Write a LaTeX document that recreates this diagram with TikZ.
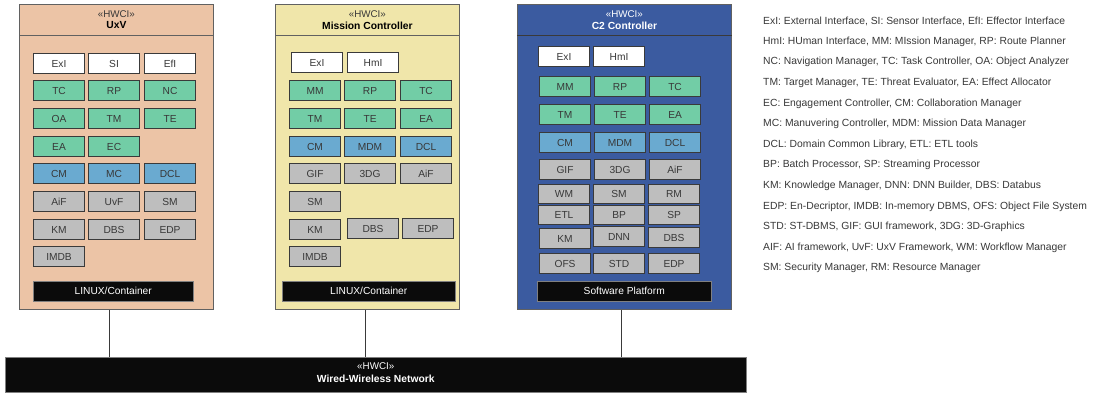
\documentclass[tikz,border=0pt]{standalone}
\usepackage{fontspec}
\setmainfont{Liberation Sans}
\definecolor{peach}{HTML}{ECC4A6}
\definecolor{straw}{HTML}{F0E6AA}
\definecolor{navy}{HTML}{3B5BA0}
\definecolor{mint}{HTML}{72CDA6}
\definecolor{sky}{HTML}{6AAAD0}
\definecolor{ash}{HTML}{BEBEBE}
\definecolor{edge}{HTML}{3A3A3A}
\definecolor{ink}{HTML}{383838}
\definecolor{night}{HTML}{0B0B0B}
\newcommand\modbox[5]{\node[mod,fill=#2] (#1) at (#3,#4) {#5};}
\begin{document}
\begin{tikzpicture}[x=1pt,y=-1pt,
  mod/.style={draw=edge,line width=1.1pt,minimum width=51pt,minimum height=20pt,
    inner sep=0pt,anchor=north west,text=ink,font=\fontsize{10.2}{11}\selectfont},
  hwci/.style={draw=edge!80,line width=0.8pt,anchor=north west,inner sep=0pt},
  plat/.style={fill=night,draw=gray,line width=0.5pt,anchor=north west,inner sep=0pt,
    minimum height=20pt,text=white,font=\fontsize{10.2}{11}\selectfont},
  stereo/.style={font=\fontsize{9.8}{11}\selectfont,inner sep=0pt},
  title/.style={font=\bfseries\fontsize{10.3}{12}\selectfont,inner sep=0pt},
  legend/.style={anchor=west,inner sep=0pt,text=ink,font=\fontsize{10.35}{12}\selectfont},
  link/.style={draw=edge,line width=0.7pt}]
\useasboundingbox (0,0) rectangle (1095,393);
\fill[white] (0,0) rectangle (1095,393);

% ---------- UxV ----------
\node[hwci,fill=peach,minimum width=194pt,minimum height=305pt] (uxv) at (19,4) {};
\draw[hwci] ([yshift=-31pt]uxv.north west) -- ([yshift=-31pt]uxv.north east);
\node[stereo,text=ink] (uxvs) at ([yshift=-10pt]uxv.north) {«HWCI»};
\node[title,text=black] (uxvt) at ([yshift=-21.5pt]uxv.north) {UxV};
\modbox{u1}{white}{33}{53}{ExI}
\modbox{u2}{white}{88}{53}{SI}
\modbox{u3}{white}{144}{53}{EfI}
\modbox{u4}{mint}{33}{80}{TC}
\modbox{u5}{mint}{88}{80}{RP}
\modbox{u6}{mint}{144}{80}{NC}
\modbox{u7}{mint}{33}{108}{OA}
\modbox{u8}{mint}{88}{108}{TM}
\modbox{u9}{mint}{144}{108}{TE}
\modbox{u10}{mint}{33}{136}{EA}
\modbox{u11}{mint}{88}{136}{EC}
\modbox{u12}{sky}{33}{163}{CM}
\modbox{u13}{sky}{88}{163}{MC}
\modbox{u14}{sky}{144}{163}{DCL}
\modbox{u15}{ash}{33}{191}{AiF}
\modbox{u16}{ash}{88}{191}{UvF}
\modbox{u17}{ash}{144}{191}{SM}
\modbox{u18}{ash}{33}{219}{KM}
\modbox{u19}{ash}{88}{219}{DBS}
\modbox{u20}{ash}{144}{219}{EDP}
\modbox{u21}{ash}{33}{246}{IMDB}
\node[plat,minimum width=160pt] (uxvp) at (33,281) {LINUX/Container};

% ---------- Mission Controller ----------
\node[hwci,fill=straw,minimum width=184pt,minimum height=305pt] (mc) at (275,4) {};
\draw[hwci] ([yshift=-31pt]mc.north west) -- ([yshift=-31pt]mc.north east);
\node[stereo,text=ink] (mcs) at ([yshift=-10pt]mc.north) {«HWCI»};
\node[title,text=black] (mct) at ([yshift=-21.5pt]mc.north) {Mission Controller};
\modbox{m1}{white}{291}{52}{ExI}
\modbox{m2}{white}{347}{52}{HmI}
\modbox{m3}{mint}{289}{80}{MM}
\modbox{m4}{mint}{344}{80}{RP}
\modbox{m5}{mint}{400}{80}{TC}
\modbox{m6}{mint}{289}{108}{TM}
\modbox{m7}{mint}{344}{108}{TE}
\modbox{m8}{mint}{400}{108}{EA}
\modbox{m9}{sky}{289}{136}{CM}
\modbox{m10}{sky}{344}{136}{MDM}
\modbox{m11}{sky}{400}{136}{DCL}
\modbox{m12}{ash}{289}{163}{GIF}
\modbox{m13}{ash}{344}{163}{3DG}
\modbox{m14}{ash}{400}{163}{AiF}
\modbox{m15}{ash}{289}{191}{SM}
\modbox{m16}{ash}{289}{219}{KM}
\modbox{m17}{ash}{347}{218}{DBS}
\modbox{m18}{ash}{402}{218}{EDP}
\modbox{m19}{ash}{289}{246}{IMDB}
\node[plat,minimum width=173pt] (mcp) at (282,281) {LINUX/Container};

% ---------- C2 Controller ----------
\node[hwci,fill=navy,minimum width=214pt,minimum height=305pt] (c2) at (517,4) {};
\draw[hwci,draw=edge] ([yshift=-31pt]c2.north west) -- ([yshift=-31pt]c2.north east);
\node[stereo,text=white] (c2s) at ([yshift=-10pt]c2.north) {«HWCI»};
\node[title,text=white] (c2t) at ([yshift=-21.5pt]c2.north) {C2 Controller};
\modbox{c1}{white}{538}{46}{ExI}
\modbox{c2b}{white}{593}{46}{HmI}
\modbox{c3}{mint}{539}{76}{MM}
\modbox{c4}{mint}{594}{76}{RP}
\modbox{c5}{mint}{649}{76}{TC}
\modbox{c6}{mint}{539}{104}{TM}
\modbox{c7}{mint}{594}{104}{TE}
\modbox{c8}{mint}{649}{104}{EA}
\modbox{c9}{sky}{539}{132}{CM}
\modbox{c10}{sky}{594}{132}{MDM}
\modbox{c11}{sky}{649}{132}{DCL}
\modbox{c12}{ash}{539}{159}{GIF}
\modbox{c13}{ash}{594}{159}{3DG}
\modbox{c14}{ash}{649}{159}{AiF}
\begin{scope}[mod/.append style={minimum height=19pt}]
\modbox{c15}{ash}{538}{184}{WM}
\modbox{c16}{ash}{593}{184}{SM}
\modbox{c17}{ash}{648}{184}{RM}
\modbox{c18}{ash}{538}{205}{ETL}
\modbox{c19}{ash}{593}{205}{BP}
\modbox{c20}{ash}{648}{205}{SP}
\end{scope}
\modbox{c21}{ash}{539}{228}{KM}
\modbox{c22}{ash}{593}{226}{DNN}
\modbox{c23}{ash}{648}{227}{DBS}
\modbox{c24}{ash}{539}{253}{OFS}
\modbox{c25}{ash}{593}{253}{STD}
\modbox{c26}{ash}{648}{253}{EDP}
\node[plat,minimum width=174pt] (c2p) at (537,281) {Software Platform};

% ---------- Network ----------
\node[fill=night,draw=gray,line width=0.5pt,anchor=north west,inner sep=0pt,
  minimum width=741pt,minimum height=35pt] (net) at (5,357) {};
\node[stereo,text=white] (nets) at ([yshift=-9.5pt]net.north) {«HWCI»};
\node[title,text=white] (nett) at ([yshift=-21.5pt]net.north) {Wired-Wireless Network};

% ---------- links to the network ----------
\draw[link] ([xshift=-7pt]uxv.south) -- ([xshift=-7pt]uxv.south |- net.north);
\draw[link] ([xshift=-2pt]mc.south) -- ([xshift=-2pt]mc.south |- net.north);
\draw[link] ([xshift=-3pt]c2.south) -- ([xshift=-3pt]c2.south |- net.north);

% ---------- abbreviations ----------
\node[legend] (l1) at (763,21) {ExI: External Interface, SI: Sensor Interface, EfI: Effector Interface};
\node[legend] (l2) at (763,41.6) {HmI: HUman Interface, MM: MIssion Manager, RP: Route Planner};
\node[legend] (l3) at (763,62.2) {NC: Navigation Manager, TC: Task Controller, OA: Object Analyzer};
\node[legend] (l4) at (763,82.8) {TM: Target Manager, TE: Threat Evaluator, EA: Effect Allocator};
\node[legend] (l5) at (763,103.4) {EC: Engagement Controller, CM: Collaboration Manager};
\node[legend] (l6) at (763,124) {MC: Manuvering Controller, MDM: Mission Data Manager};
\node[legend] (l7) at (763,144.6) {DCL: Domain Common Library, ETL: ETL tools};
\node[legend] (l8) at (763,165.2) {BP: Batch Processor, SP: Streaming Processor};
\node[legend] (l9) at (763,185.8) {KM: Knowledge Manager, DNN: DNN Builder, DBS: Databus};
\node[legend] (l10) at (763,206.4) {EDP: En-Decriptor, IMDB: In-memory DBMS, OFS: Object File System};
\node[legend] (l11) at (763,227) {STD: ST-DBMS, GIF: GUI framework, 3DG: 3D-Graphics};
\node[legend] (l12) at (763,247.6) {AIF: AI framework, UvF: UxV Framework, WM: Workflow Manager};
\node[legend] (l13) at (763,268.2) {SM: Security Manager, RM: Resource Manager};
\end{tikzpicture}
\end{document}
